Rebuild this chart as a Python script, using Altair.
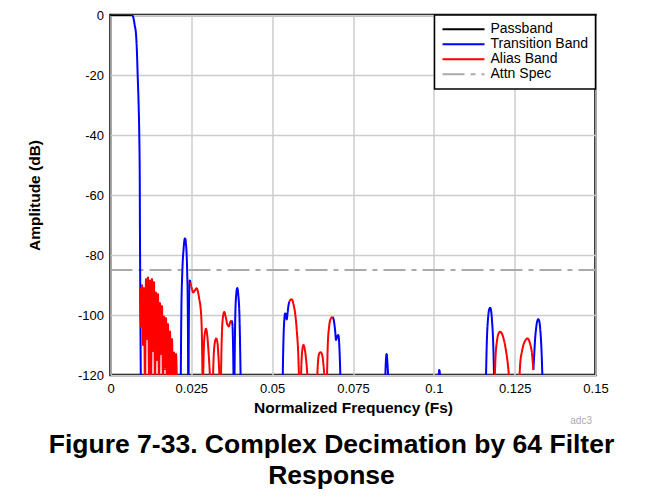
import altair as alt
import pandas as pd

BANDS = ["Passband", "Transition Band", "Alias Band", "Attn Spec"]
COLORS = ["#000000", "#0000ff", "#ff0000", "#aaaaaa"]
DASHES = [[1, 0], [1, 0], [1, 0], [22, 6, 5, 6]]
X_TICKS = [0, 0.025, 0.05, 0.075, 0.1, 0.125, 0.15]
Y_TICKS = [0, -20, -40, -60, -80, -100, -120]

ATTN = [[(0.0, -85), (0.15, -85)]]

PASSBAND = [[(0.0, 0.0), (0.0067, 0.0)]]

TRANSITION = [
    [(0.0067, 0), (0.0071, -1), (0.0075, -3.5), (0.0079, -6.5), (0.0082, -13), (0.0084, -20),
     (0.0087, -30), (0.0089, -40), (0.00905, -55), (0.0091, -70), (0.0092, -90), (0.0093, -110),
     (0.0094, -125)],
    [(0.02171, -125), (0.0219, -100), (0.0222, -86), (0.0226, -78), (0.02304, -74.4), (0.0234, -77),
     (0.0237, -85), (0.0239, -97), (0.02405, -125)],
    [(0.02412, -125), (0.0243, -95), (0.0245, -88.5), (0.0247, -89)],
    [(0.0374, -101.8), (0.0377, -103), (0.0379, -110), (0.0381, -125)],
    [(0.0383, -125), (0.0386, -100), (0.0389, -93), (0.0392, -91), (0.0395, -93), (0.0399, -101),
     (0.0403, -125)],
    [(0.0532, -125), (0.0535, -108), (0.0538, -101), (0.0540, -99.5), (0.0543, -100), (0.0545, -101.5),
     (0.0548, -99), (0.0551, -96.5), (0.0553, -95.6)],
    [(0.06873, -100.6), (0.0691, -102), (0.0695, -105.5), (0.06975, -108.3), (0.0701, -107.2),
     (0.07046, -106.7), (0.0708, -111), (0.0710, -117), (0.0712, -125)],
    [(0.0849, -125), (0.0851, -117), (0.0854, -113), (0.0857, -117), (0.0861, -125)],
    [(0.1013, -125), (0.1015, -120), (0.1017, -118.3), (0.1019, -120), (0.1022, -125)],
    [(0.11606, -125), (0.11636, -110), (0.11677, -101), (0.11708, -98.3), (0.11739, -97.6),
     (0.11770, -98.5), (0.11800, -102), (0.11831, -108), (0.11853, -116), (0.11869, -125)],
    [(0.13078, -118.3), (0.13101, -114), (0.13132, -108), (0.13163, -104.5), (0.13192, -102.3),
     (0.13232, -101.4), (0.13269, -102.5), (0.13300, -106), (0.13331, -112), (0.13369, -125)],
]

ALIAS_DENSE_F = [0.00912, 0.00943, 0.00974, 0.01005, 0.01036, 0.01067, 0.01098, 0.01129, 0.01160,
                 0.01191, 0.01222, 0.01253, 0.01284, 0.01315, 0.01345, 0.01376, 0.01407, 0.01438,
                 0.01469, 0.01500, 0.01531, 0.01562, 0.01593, 0.01624, 0.01655, 0.01686, 0.01717,
                 0.01747, 0.01778, 0.01809, 0.01840, 0.01871, 0.01902, 0.01933, 0.01964, 0.01995,
                 0.02026, 0.02057]
ALIAS_DENSE_DB = [-91, -104, -90, -110, -91, -125, -88, -108, -87.5, -120, -88.5, -125, -88, -112,
                  -89, -125, -92.5, -115, -93, -125, -96, -113, -97, -125, -100.5, -118, -101, -125,
                  -103, -121, -105.5, -125, -108, -125, -112.5, -125, -113, -125]

ALIAS = [
    list(zip(ALIAS_DENSE_F, ALIAS_DENSE_DB)),
    [(0.0247, -89), (0.0251, -91), (0.02561, -92.5), (0.0261, -91.8), (0.02666, -91.1), (0.0271, -92.5),
     (0.0275, -95), (0.0278, -97), (0.0282, -104), (0.0285, -125)],
    [(0.0286, -125), (0.0289, -110), (0.0292, -106), (0.02954, -104.6), (0.0299, -106.5), (0.0303, -112),
     (0.0310, -125)],
    [(0.0316, -125), (0.0319, -114), (0.0323, -109), (0.0327, -107.8), (0.0331, -109.5), (0.0335, -116),
     (0.0339, -125)],
    [(0.0341, -125), (0.0344, -108), (0.0348, -100.5), (0.0352, -99), (0.0356, -100.5), (0.0361, -103),
     (0.0366, -103.8), (0.0370, -102.5), (0.0374, -101.8)],
    [(0.0553, -95.6), (0.0557, -94.9), (0.0561, -94.8), (0.0566, -96.5), (0.0571, -99.4), (0.0576, -105),
     (0.0581, -114), (0.0584, -125)],
    [(0.0588, -125), (0.0591, -115), (0.0594, -111), (0.0597, -110), (0.0601, -111.5), (0.0606, -116),
     (0.0612, -125)],
    [(0.0638, -125), (0.0641, -117), (0.0645, -113), (0.0650, -112.4), (0.0655, -113.5), (0.0659, -117),
     (0.0664, -125)],
    [(0.0669, -125), (0.0672, -110), (0.0676, -104), (0.0681, -101.3), (0.06873, -100.6)],
    [(0.11871, -125), (0.11908, -114), (0.11955, -108.5), (0.12001, -106.2), (0.12048, -105.6),
     (0.12110, -106.3), (0.12172, -108.5), (0.12233, -112), (0.12295, -117), (0.12357, -125)],
    [(0.12635, -125), (0.12666, -117), (0.12728, -112), (0.12805, -109), (0.12904, -107.8),
     (0.12975, -109.5), (0.13037, -113), (0.13078, -118.3)],
]

TITLE = ["Figure 7-33. Complex Decimation by 64 Filter", "Response"]
FONT = "Liberation Sans"


def table(band, segments):
    rows = []
    for i, seg in enumerate(segments):
        for k, (f, d) in enumerate(seg):
            rows.append({"band": band, "seg": f"{band} {i}", "f": f, "db": d, "k": k})
    return rows


df = pd.DataFrame(table("Attn Spec", ATTN) + table("Passband", PASSBAND)
                  + table("Transition Band", TRANSITION) + table("Alias Band", ALIAS))

legend = alt.Legend(title=None, orient="top-right", offset=0, padding=7, fillColor="white",
                    strokeColor="black", symbolType="stroke", symbolSize=1764, symbolStrokeWidth=2,
                    labelFontSize=14, labelFont=FONT, labelColor="black", labelOffset=5,
                    rowPadding=0, clipHeight=14.5)

base = alt.Chart(df).mark_line(strokeWidth=2, clip=True, interpolate="monotone").encode(
    x=alt.X("f:Q", scale=alt.Scale(domain=[0, 0.15], nice=False, zero=False),
            axis=alt.Axis(values=X_TICKS, labelExpr="toString(datum.value)", labelFlush=False,
                          title="Normalized Frequency (Fs)", titleX=242.5, titleY=32,
                          titleBaseline="middle")),
    y=alt.Y("db:Q", scale=alt.Scale(domain=[-120, 0], nice=False, zero=False),
            axis=alt.Axis(values=Y_TICKS, labelExpr="toString(datum.value)", labelFlush=False,
                          title="Amplitude (dB)", titleX=-76.5, titleY=180,
                          titleBaseline="middle")),
    color=alt.Color("band:N", scale=alt.Scale(domain=BANDS, range=COLORS), legend=legend),
    strokeDash=alt.StrokeDash("band:N", scale=alt.Scale(domain=BANDS, range=DASHES), legend=legend),
    detail="seg:N",
    order="k:Q",
)

attn = base.transform_filter("datum.band == 'Attn Spec'")
blue = base.transform_filter("datum.band == 'Passband' || datum.band == 'Transition Band'")
red = base.transform_filter("datum.band == 'Alias Band'")

note = alt.Chart(pd.DataFrame({"t": ["adc3"]})).mark_text(
    align="right", baseline="middle", fontSize=10, color="#aaaaaa", font=FONT
).encode(x=alt.value(481.5), y=alt.value(406), text="t:N")

chart = alt.layer(attn, blue, red, note).properties(
    width=485, height=360,
    padding={"left": 102.5, "top": 7, "right": 59.5, "bottom": 115},
    autosize=alt.AutoSizeParams(type="none"),
    title=alt.TitleParams(text=TITLE, orient="bottom", anchor="middle", frame="group", dx=-21.5,
                          fontSize=26.5, font=FONT, fontWeight="bold", color="black",
                          lineHeight=31, offset=6),
).configure_axis(
    grid=True, gridColor="#cccccc", gridWidth=1.5, domain=False, ticks=False, tickSize=0,
    labelFont=FONT, labelFontSize=13, labelColor="black", labelPadding=7,
    titleFont=FONT, titleFontSize=15.5, titleFontWeight="bold", titleColor="black",
).configure_view(stroke="black", strokeWidth=2.5).configure_legend(strokeWidth=1.5)

chart.save("out.html", embed_options={"renderer": "svg", "actions": False})
